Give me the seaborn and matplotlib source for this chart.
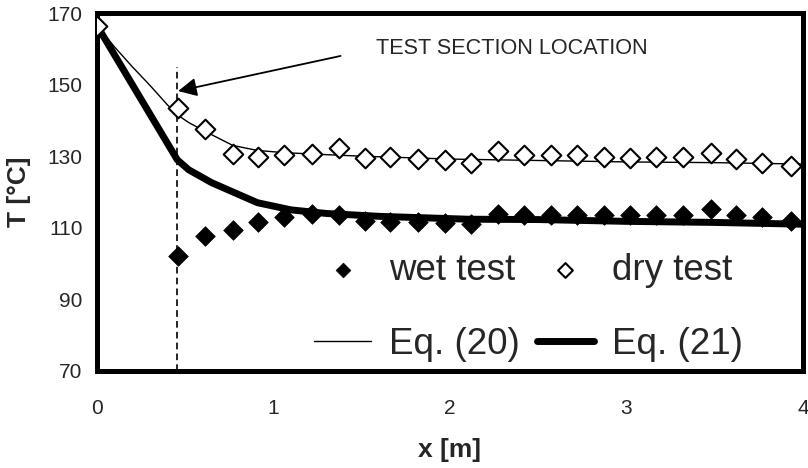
import matplotlib
matplotlib.use("Agg")
import matplotlib.pyplot as plt
import seaborn as sns
import pandas as pd

# measured points (x in m, T in degC)
dry_x = [0.0, 0.46, 0.61, 0.77, 0.91, 1.06, 1.22, 1.37, 1.52, 1.66, 1.82, 1.97, 2.12,
         2.27, 2.42, 2.57, 2.72, 2.87, 3.02, 3.17, 3.32, 3.48, 3.62, 3.77, 3.93]
dry_T = [166.4, 143.5, 137.7, 130.7, 129.9, 130.4, 130.7, 132.3, 129.5, 129.7, 129.1, 128.8, 128.0,
         131.4, 130.4, 130.3, 130.4, 129.9, 129.5, 129.7, 129.7, 130.9, 129.1, 128.2, 127.4]

wet_x = [0.46, 0.61, 0.77, 0.91, 1.06, 1.22, 1.37, 1.52, 1.66, 1.82, 1.97, 2.12,
         2.27, 2.42, 2.57, 2.72, 2.87, 3.02, 3.17, 3.32, 3.48, 3.62, 3.77, 3.93]
wet_T = [102.1, 107.6, 109.5, 111.6, 113.0, 113.8, 113.6, 111.9, 111.6, 111.6, 111.4, 111.1,
         113.9, 113.5, 113.5, 113.6, 113.5, 113.5, 113.7, 113.7, 115.3, 113.5, 113.0, 111.9]

# model curves
eq20_x = [0.0, 0.1, 0.2, 0.3, 0.4, 0.46, 0.52, 0.61, 0.77, 0.91, 1.06, 1.22, 1.5, 2.0, 2.5, 3.0, 3.5, 4.0]
eq20_T = [166.5, 160.5, 155.0, 149.8, 144.3, 141.4, 139.4, 137.0, 133.0, 131.6, 131.0, 130.6, 130.0,
          129.2, 128.8, 128.4, 128.2, 127.8]

eq21_x = [0.0, 0.455, 0.52, 0.65, 0.84, 0.91, 1.1, 1.3, 1.6, 2.1, 2.5, 3.0, 3.5, 4.0]
eq21_T = [166.5, 129.0, 126.2, 122.6, 118.5, 117.0, 115.0, 114.0, 113.2, 112.4, 112.3, 111.8, 111.5, 111.0]

# test section marker
section_x = 0.455
section_T = [70, 155]

sns.set_theme(style="white")
plt.rcParams["font.family"] = ["Liberation Sans", "DejaVu Sans"]

fig = plt.figure(figsize=(8.08, 4.68), dpi=100)
ax = fig.add_axes([0.120, 0.2073, 0.8738, 0.7649])

sns.lineplot(x=eq20_x, y=eq20_T, ax=ax, color="black", lw=1.0, sort=False,
             label="Eq. (20)", zorder=2)
sns.lineplot(x=eq21_x, y=eq21_T, ax=ax, color="black", lw=5, sort=False,
             label="Eq. (21)", zorder=2, solid_capstyle="round")
sns.scatterplot(x=wet_x, y=wet_T, ax=ax, marker="D", s=100, color="black",
                edgecolor="black", linewidth=0.5, label="wet test", zorder=3)
sns.scatterplot(x=dry_x, y=dry_T, ax=ax, marker="D", s=100, facecolor="white",
                edgecolor="black", linewidth=1.5, label="dry test", zorder=4)

ax.vlines(section_x, section_T[0], section_T[1], colors="black", linestyles=(0, (4, 2.5)), lw=1.2)
ax.annotate("", xy=(0.46, 148.2), xytext=(1.38, 158.0),
            arrowprops=dict(arrowstyle="-|>", color="black", lw=1.3, mutation_scale=28,
                            shrinkA=0, shrinkB=0))
ax.text(1.58, 160.0, "TEST SECTION LOCATION", fontsize=15.6, ha="left", va="center")

ax.set_xlim(0, 4)
ax.set_ylim(70, 170)
ax.set_xticks([0, 1, 2, 3, 4])
ax.set_yticks([70, 90, 110, 130, 150, 170])
ax.tick_params(direction="inout", length=11, width=1.2, labelsize=15, color="black")
ax.tick_params(axis="y", pad=5)
ax.tick_params(axis="x", pad=15)
for sp in ax.spines.values():
    sp.set_linewidth(3.6)
    sp.set_color("black")
    sp.set_visible(True)

ax.set_xlabel("x [m]", fontsize=19, fontweight="bold", labelpad=14)
ax.set_ylabel("T [°C]", fontsize=19, fontweight="bold", labelpad=12)

h, l = ax.get_legend_handles_labels()
order = [l.index(n) for n in ["wet test", "Eq. (20)", "dry test", "Eq. (21)"]]
ax.legend([h[i] for i in order], [l[i] for i in order], ncol=2, frameon=False,
          fontsize=26.5, loc="center", bbox_to_anchor=(0.611, 0.178), markerscale=0.75,
          handlelength=1.55, handletextpad=0.49, columnspacing=0.46, labelspacing=1.06)

fig.savefig("out.png", dpi=100)
